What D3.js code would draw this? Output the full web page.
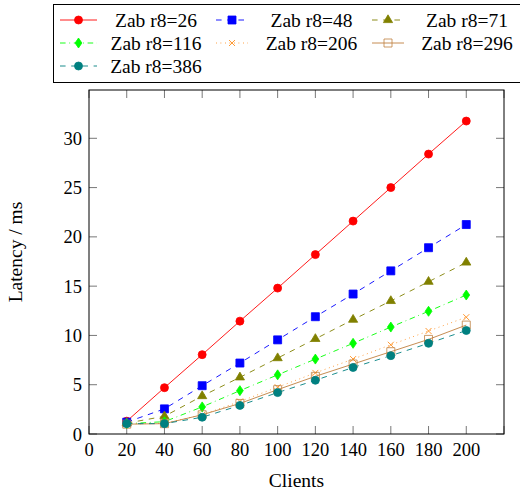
<!DOCTYPE html>
<html>
<head>
<meta charset="utf-8">
<script src="https://cdn.jsdelivr.net/npm/d3@7"></script>
<style>
  body { margin: 0; background: #fff; }
  svg text { font-family: 'Liberation Serif', 'Times New Roman', serif; fill: #000; }
</style>
</head>
<body>
<div class="graphic"></div>
<script>
// data
const clients = [20, 40, 60, 80, 100, 120, 140, 160, 180, 200]
const seriesNames = ['Zab r8=26', 'Zab r8=48', 'Zab r8=71', 'Zab r8=116', 'Zab r8=206', 'Zab r8=296', 'Zab r8=386']
const r26 = [1.3, 4.7, 8.05, 11.45, 14.8, 18.2, 21.6, 25.0, 28.4, 31.75]
const r48 = [1.2, 2.55, 4.9, 7.2, 9.55, 11.9, 14.2, 16.55, 18.9, 21.25]
const r71 = [1.1, 1.8, 3.85, 5.75, 7.7, 9.65, 11.6, 13.5, 15.45, 17.4]
const r116 = [1.05, 1.25, 2.75, 4.4, 6.0, 7.6, 9.2, 10.85, 12.45, 14.1]
const r206 = [1.0, 1.1, 1.95, 3.3, 4.75, 6.2, 7.6, 9.05, 10.45, 11.85]
const r296 = [1.0, 1.05, 1.95, 3.1, 4.5, 5.85, 7.1, 8.35, 9.6, 11.05]
const r386 = [1.05, 1.05, 1.7, 2.9, 4.2, 5.45, 6.75, 7.95, 9.2, 10.5]
const xTicks = [0, 20, 40, 60, 80, 100, 120, 140, 160, 180, 200]
const yTicks = [0, 5, 10, 15, 20, 25, 30]

const width = 520
const height = 491
const frame = { left: 89, top: 90, right: 504, bottom: 434 }

// marker shapes, pgfplots style
const shapes = {
	circle: { draw(c) { c.moveTo(4, 0); c.arc(0, 0, 4, 0, 2 * Math.PI) } },
	square: { draw(c) { c.rect(-4, -4, 8, 8) } },
	triangle: { draw(c) { c.moveTo(0, -5.2); c.lineTo(4.6, 2.6); c.lineTo(-4.6, 2.6); c.closePath() } },
	diamond: { draw(c) { c.moveTo(0, -5); c.lineTo(3.4, 0); c.lineTo(0, 5); c.lineTo(-3.4, 0); c.closePath() } },
	cross: { draw(c) { c.moveTo(-3, -3); c.lineTo(3, 3); c.moveTo(3, -3); c.lineTo(-3, 3) } },
}

const styles = [
	{ color: '#ff0000', dash: null, mark: 'circle', fill: true },
	{ color: '#0000ff', dash: '5.6,5.6', mark: 'square', fill: true },
	{ color: '#808000', dash: '5.6,5.6', mark: 'triangle', fill: true },
	{ color: '#00ff00', dash: '5.6,3.7,0.8,3.7', mark: 'diamond', fill: true },
	{ color: '#ff8000', dash: '0.8,3.7', mark: 'cross', fill: false },
	{ color: '#bf8040', dash: null, mark: 'square', fill: false },
	{ color: '#008080', dash: '5.6,5.6', mark: 'circle', fill: true },
]

const values = [r26, r48, r71, r116, r206, r296, r386]
const series = seriesNames.map((name, i) => ({
	name,
	style: styles[i],
	points: clients.map((c, j) => ({ x: c, y: values[i][j] })),
}))

const svg = d3.select('.graphic').append('svg')
	.attr('width', width)
	.attr('height', height)

const x = d3.scaleLinear().domain([0, 220]).range([frame.left, frame.right])
const y = d3.scaleLinear().domain([0, 34.9]).range([frame.bottom, frame.top])

const tickLen = 8

// ticks, inside on all four sides
const axes = svg.append('g').attr('stroke', '#000').attr('stroke-width', 0.8)
const xt = x.domain()[1]
xTicks.concat([220]).forEach(t => {
	axes.append('line').attr('x1', x(t)).attr('x2', x(t)).attr('y1', frame.bottom).attr('y2', frame.bottom - tickLen).attr('stroke', '#555')
	axes.append('line').attr('x1', x(t)).attr('x2', x(t)).attr('y1', frame.top).attr('y2', frame.top + tickLen).attr('stroke', '#555')
})
yTicks.forEach(t => {
	axes.append('line').attr('y1', y(t)).attr('y2', y(t)).attr('x1', frame.left).attr('x2', frame.left + tickLen).attr('stroke', '#555')
	axes.append('line').attr('y1', y(t)).attr('y2', y(t)).attr('x1', frame.right).attr('x2', frame.right - tickLen).attr('stroke', '#555')
})

svg.append('g').selectAll('text')
	.data(xTicks)
	.join('text')
	.attr('x', d => x(d))
	.attr('y', frame.bottom + 22)
	.attr('text-anchor', 'middle')
	.attr('font-size', 18.5)
	.text(d => d)

svg.append('g').selectAll('text')
	.data(yTicks)
	.join('text')
	.attr('x', frame.left - 7)
	.attr('y', d => y(d) + 6.5)
	.attr('text-anchor', 'end')
	.attr('font-size', 18.5)
	.text(d => d)

svg.append('text')
	.attr('x', (frame.left + frame.right) / 2)
	.attr('y', 487)
	.attr('text-anchor', 'middle')
	.attr('font-size', 19.5)
	.text('Clients')

svg.append('text')
	.attr('transform', 'translate(22,252) rotate(-90)')
	.attr('text-anchor', 'middle')
	.attr('font-size', 19.5)
	.text('Latency / ms')

// series
const line = d3.line().x(d => x(d.x)).y(d => y(d.y))
const plot = svg.append('g')

function drawMark(g, s, cx, cy) {
	g.append('path')
		.attr('d', d3.symbol(shapes[s.mark])())
		.attr('transform', `translate(${cx},${cy})`)
		.attr('fill', s.fill ? s.color : 'none')
		.attr('stroke', s.color)
		.attr('stroke-width', 0.8)
}

series.forEach(s => {
	plot.append('path')
		.datum(s.points)
		.attr('d', line)
		.attr('fill', 'none')
		.attr('stroke', s.style.color)
		.attr('stroke-width', 0.9)
		.attr('stroke-dasharray', s.style.dash)
	s.points.forEach(p => drawMark(plot, s.style, x(p.x), y(p.y)))
})

svg.append('rect')
	.attr('x', frame.left)
	.attr('y', frame.top)
	.attr('width', frame.right - frame.left)
	.attr('height', frame.bottom - frame.top)
	.attr('fill', 'none')
	.attr('stroke', '#000')
	.attr('stroke-width', 1)

// legend
const legend = svg.append('g')
legend.append('rect')
	.attr('x', 53.5).attr('y', 4.5)
	.attr('width', 480).attr('height', 78)
	.attr('fill', '#fff')
	.attr('stroke', '#000')
	.attr('stroke-width', 1)

const colSym = [[60, 97], [216, 248], [372, 404]]
const colText = [156, 311.5, 467]
const rowY = [20, 43, 66]

series.forEach((s, i) => {
	const col = i % 3
	const row = Math.floor(i / 3)
	const [x1, x2] = colSym[col]
	legend.append('line')
		.attr('x1', x1).attr('x2', x2)
		.attr('y1', rowY[row]).attr('y2', rowY[row])
		.attr('stroke', s.style.color)
		.attr('stroke-width', 0.9)
		.attr('stroke-dasharray', s.style.dash)
	drawMark(legend, s.style, (x1 + x2) / 2, rowY[row])
	legend.append('text')
		.attr('x', colText[col])
		.attr('y', rowY[row] + 6.5)
		.attr('text-anchor', 'middle')
		.attr('font-size', 19.5)
		.text(s.name)
})
</script>
</body>
</html>
